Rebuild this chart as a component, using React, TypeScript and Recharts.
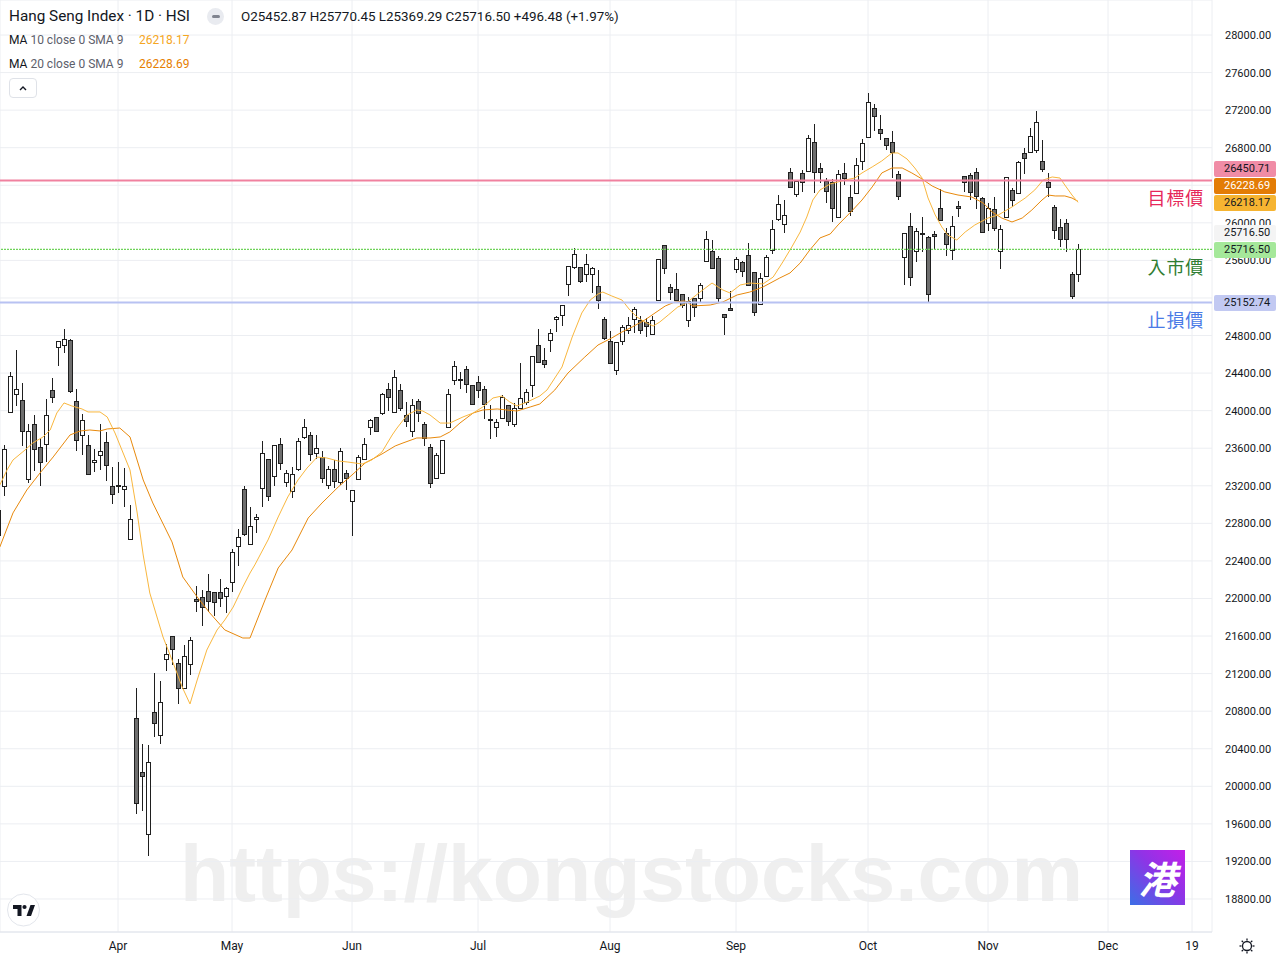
import React from 'react'
import { ComposedChart, Bar, Line, XAxis, YAxis, CartesianGrid, ReferenceLine } from 'recharts'

// Hang Seng Index daily candles, 4 Mar 2025 .. 24 Nov 2025 (bar index 0..180)
const opens = [
  22680, 23198, 23986, 24177, 24113, 23272, 23858, 23613, 23645, 24220,
  24678, 24699, 24752, 24103, 23741, 23634, 23453, 23528, 23666, 23198,
  23200, 23166, 22634, 20724, 20149, 19489, 20795, 20546, 21353, 21597,
  21310, 21051, 21299, 21990, 22019, 22076, 22066, 22066, 22030, 22179,
  22562, 23163, 22579, 22843, 23173, 23482, 23308, 23642, 23237, 23148,
  23379, 23723, 23737, 23546, 23503, 23205, 23376, 23237, 23333, 23035,
  23269, 23489, 23823, 23929, 23972, 24227, 23985, 24220, 23951, 23780,
  24100, 23855, 23610, 23280, 23333, 23823, 24323, 24334, 24440, 24270,
  24302, 24227, 23908, 23823, 23919, 24057, 23855, 24025, 24089, 24270,
  24696, 24536, 24749, 24980, 25015, 25345, 25527, 25527, 25452, 25452,
  25324, 24973, 24739, 24430, 24739, 24856, 24973, 24962, 24941, 24813,
  25175, 25761, 25314, 25292, 25240, 24962, 25203, 25196, 25597, 25703,
  25622, 25025, 25089, 25505, 25579, 25654, 25480, 25132, 25434, 25710,
  26037, 25984, 26537, 26303, 26527, 26552, 26857, 26580, 26449, 26432,
  26066, 26527, 26272, 26315, 26662, 26911, 27220, 26996, 26900, 26858,
  26517, 25633, 25963, 25704, 25889, 25846, 25878, 26155, 25889, 25711,
  26176, 26496, 26510, 26538, 26261, 26000, 26144, 25697, 26059, 26346,
  26315, 26740, 26751, 26772, 26655, 26431, 26165, 25952, 25995, 25455,
  25452.87,
]
const highs = [
  22990, 23634, 24412, 24646, 24294, 23858, 23954, 23709, 24124, 24347,
  24742, 24870, 24763, 24230, 23965, 23741, 23592, 23858, 23773, 23400,
  23453, 23389, 22995, 21047, 20450, 20436, 21206, 21121, 21515, 21600,
  21359, 21505, 21590, 22133, 22090, 22261, 22066, 22208, 22125, 22527,
  22740, 23198, 22977, 22900, 23680, 23482, 23631, 23706, 23368, 23397,
  23706, 23908, 23776, 23737, 23571, 23411, 23475, 23599, 23368, 23152,
  23528, 23706, 23908, 23929, 24185, 24291, 24433, 24280, 24089, 24128,
  24128, 23883, 23645, 23546, 23684, 24227, 24526, 24408, 24472, 24270,
  24366, 24259, 24057, 23908, 24164, 24057, 24078, 24504, 24227, 24579,
  24866, 24664, 24870, 25008, 25122, 25541, 25729, 25527, 25665, 25527,
  25495, 24994, 24852, 24728, 24916, 24994, 25108, 25005, 24983, 25005,
  25612, 25761, 25346, 25463, 25240, 25206, 25203, 25356, 25916, 25817,
  25647, 25025, 25274, 25640, 25597, 25781, 25480, 25462, 25654, 26030,
  26296, 26243, 26580, 26449, 26562, 26935, 27052, 26633, 26474, 26467,
  26563, 26634, 26403, 26687, 26890, 27383, 27262, 27149, 26900, 26978,
  26552, 25889, 26102, 25942, 26059, 25864, 25917, 26361, 25942, 26077,
  26233, 26496, 26527, 26580, 26279, 26208, 26279, 25974, 26485, 26368,
  26662, 26793, 27006, 27187, 26879, 26527, 26187, 26038, 26041, 25477,
  25770.45,
]
const lows = [
  22600, 23091, 23986, 24049, 23624, 23230, 23357, 23198, 23453, 24081,
  24475, 24614, 24190, 23570, 23528, 23315, 23347, 23368, 23251, 23006,
  23123, 22974, 22634, 19705, 19740, 19262, 20528, 20450, 21231, 21292,
  20873, 21047, 21185, 21860, 21710, 21860, 21817, 21913, 21849, 22066,
  22349, 22660, 22579, 22697, 22977, 23040, 23200, 23368, 23191, 23067,
  23357, 23698, 23467, 23485, 23227, 23169, 23177, 23205, 23155, 22668,
  23269, 23475, 23737, 23780, 23954, 24000, 23985, 23996, 23829, 23723,
  23883, 23627, 23180, 23280, 23333, 23823, 24270, 24227, 24185, 24068,
  24132, 23916, 23695, 23716, 23908, 23833, 23823, 24025, 24057, 24142,
  24504, 24451, 24629, 24842, 24905, 25225, 25505, 25356, 25374, 25257,
  25086, 24749, 24504, 24377, 24696, 24813, 24824, 24813, 24781, 24803,
  25175, 25452, 25175, 25165, 25090, 24887, 25001, 25143, 25586, 25515,
  25143, 24805, 25068, 25469, 25427, 25334, 25011, 25132, 25427, 25668,
  26019, 25888, 26378, 26278, 26332, 26552, 26321, 26420, 26207, 26006,
  26055, 26403, 26077, 26315, 26563, 26911, 26978, 26882, 26776, 26481,
  26247, 25339, 25332, 25587, 25694, 25154, 25715, 26027, 25651, 25605,
  26066, 26325, 26247, 26144, 25899, 25917, 25917, 25505, 26059, 26172,
  26304, 26516, 26740, 26740, 26538, 26272, 25824, 25747, 25693, 25186,
  25369.29,
]
const closes = [
  22940, 23592, 24369, 24231, 23783, 23783, 23592, 23453, 23954, 24145,
  24742, 24763, 24209, 23688, 23901, 23326, 23475, 23570, 23421, 23113,
  23206, 23198, 22846, 19819, 20113, 20256, 20671, 20901, 21406, 21459,
  21044, 21384, 21555, 21971, 21906, 21970, 21959, 22002, 22108, 22492,
  22651, 22683, 22769, 22864, 23546, 23094, 23631, 23446, 23333, 23322,
  23674, 23823, 23535, 23599, 23280, 23376, 23248, 23567, 23280, 23152,
  23503, 23642, 23897, 23780, 24174, 24149, 24355, 24024, 23887, 24057,
  23972, 23706, 23226, 23525, 23684, 24174, 24472, 24323, 24281, 24068,
  24217, 24068, 23897, 23876, 24142, 23887, 24025, 24132, 24195, 24579,
  24515, 24494, 24824, 24994, 25122, 25541, 25665, 25377, 25558, 25516,
  25175, 24771, 24504, 24728, 24895, 24909, 25079, 24856, 24898, 24962,
  25612, 25516, 25260, 25175, 25120, 25167, 25100, 25338, 25824, 25515,
  25196, 24993, 25068, 25611, 25490, 25334, 25047, 25409, 25636, 25934,
  26197, 26080, 26378, 26449, 26431, 26899, 26537, 26537, 26336, 26155,
  26517, 26474, 26121, 26613, 26847, 27283, 27134, 26953, 26826, 26751,
  26283, 25889, 25427, 25910, 25878, 25239, 25857, 26027, 25772, 25963,
  26155, 26432, 26332, 26282, 25899, 26155, 25942, 25931, 26485, 26240,
  26644, 26687, 26921, 27070, 26570, 26378, 25920, 25824, 25824, 25220,
  25716.5,
]

// MA 10 / MA 20 (SMA 9 smoothed): [bar index, value]
const ma10 = [
  [0.3, 23208], [1.5, 23368], [2.5, 23475], [4.5, 23581], [5.8, 23656], [7.5, 23720], [8.7, 23794],
  [9.8, 23975], [11, 24082], [12.3, 24050], [14, 24018], [15, 23986], [17, 23986], [18.2, 23933],
  [19.5, 23762], [22, 23368], [23.2, 22910], [24.2, 22463], [25.3, 22058], [27.5, 21590], [29.2, 21313],
  [30.7, 21057], [32, 20877], [33.2, 21132], [34.8, 21451], [36.5, 21664], [37.8, 21771], [39.2, 21909],
  [40.8, 22122], [42, 22271], [42.8, 22357], [45, 22623], [46.7, 22868], [48.3, 23081], [50, 23262],
  [51.5, 23389], [53.2, 23506], [54.8, 23496], [56.7, 23464], [58.3, 23453], [60.7, 23432], [62.3, 23475],
  [64, 23560], [65.7, 23741], [66.5, 23815], [68.2, 23954], [69.8, 24007], [70.8, 23996], [72, 23954],
  [73.7, 23868], [75.3, 23868], [77.5, 23933], [79.2, 23975], [80.8, 24039], [82.5, 24135], [84, 24156],
  [85.3, 24092], [86.5, 24050], [88.2, 24092], [90.3, 24156], [91.5, 24220], [94, 24465], [95.7, 24784],
  [97.3, 25040], [98.7, 25178], [100, 25242], [100.8, 25263], [102.3, 25221], [104, 25178], [105.3, 25072],
  [106.5, 24997], [107.8, 24944], [109.2, 24901], [110.3, 24944], [111.7, 25018], [113.3, 25104],
  [114.5, 25136], [117, 25263], [119, 25359], [120.8, 25285], [122, 25253], [123.7, 25338], [125.3, 25359],
  [127.5, 25349], [129.2, 25423], [130.8, 25583], [132.3, 25743], [133.7, 25902], [134.8, 26062],
  [135.8, 26243], [137, 26350], [138.7, 26414], [141.2, 26456], [142.8, 26477], [144, 26531], [145.7, 26595],
  [147.3, 26659], [149, 26744], [150, 26744], [151.5, 26680], [152.8, 26584], [154, 26478], [155, 26265],
  [156.2, 26084], [157.3, 25956], [158.3, 25870], [159.8, 25817], [161.2, 25902], [162.8, 25977],
  [165, 26051], [166.7, 26083], [169, 26169], [171.2, 26264], [172.8, 26350], [174.2, 26456], [175.7, 26488],
  [177, 26477], [177.8, 26403], [179, 26296], [180, 26218.17],
]
const ma20 = [
  [0.3, 22548], [2.5, 22911], [4.8, 23155], [7, 23336], [9.2, 23507], [12, 23741], [13.7, 23784],
  [15.3, 23794], [17, 23784], [18.2, 23805], [20.3, 23815], [22, 23720], [24.2, 23262], [25.8, 23017],
  [29, 22602], [30.8, 22229], [33.2, 22016], [35.3, 21846], [37.8, 21665], [40.8, 21579], [42, 21579],
  [44.5, 21984], [46.7, 22325], [49, 22516], [51.7, 22857], [54, 23017], [56.7, 23187], [59, 23315],
  [61.2, 23443], [64, 23539], [66.2, 23624], [67.5, 23656], [69.8, 23709], [72, 23709], [73.7, 23720],
  [75.3, 23773], [77, 23869], [79.2, 23975], [80.8, 24007], [83.2, 24018], [84.8, 24007], [86.5, 23996],
  [88.7, 24039], [90.3, 24071], [92.8, 24220], [95, 24401], [97.8, 24571], [100, 24699], [102.3, 24774],
  [104, 24838], [105.7, 24891], [107.8, 24965], [109.5, 25040], [111.2, 25114], [112.8, 25157],
  [114.5, 25168], [115.8, 25115], [118.7, 25125], [120.8, 25157], [123.2, 25232], [125.3, 25263],
  [127.5, 25317], [130.3, 25413], [132, 25466], [133.7, 25572], [135.3, 25711], [137, 25839], [138.7, 25881],
  [140, 25977], [142.3, 26126], [144, 26243], [145.7, 26382], [147.3, 26531], [149, 26584], [150.7, 26584],
  [152.3, 26531], [154, 26467], [155.7, 26392], [157.8, 26329], [160, 26296], [162.3, 26275], [164.2, 26211],
  [165.7, 26115], [167.3, 26051], [169, 26009], [170.7, 26051], [172.3, 26136], [174, 26243], [175, 26296],
  [176.2, 26286], [177.8, 26286], [179, 26264], [180, 26228.69],
]

const monthIdx = [20, 39, 59, 80, 102, 123, 145, 165, 185, 199]
const monthLabels = ['Apr', 'May', 'Jun', 'Jul', 'Aug', 'Sep', 'Oct', 'Nov', 'Dec', '19']
const priceTicks = [
  18800, 19200, 19600, 20000, 20400, 20800, 21200, 21600, 22000, 22400, 22800, 23200,
  23600, 24000, 24400, 24800, 25200, 25600, 26000, 26400, 26800, 27200, 27600, 28000,
]
// these two tick labels sit fully under the price tags
const coveredTicks = [25200, 26400]

const targetPrice = 26450.71
const entryPrice = 25716.5
const stopPrice = 25152.74

const rows = closes.map((c, i) => ({ i, o: opens[i], h: highs[i], l: lows[i], c, range: [lows[i], highs[i]] }))
const ma10Rows = ma10.map(([i, v]) => ({ i, v }))
const ma20Rows = ma20.map(([i, v]) => ({ i, v }))

const INK = '#131722'
const WICK = '#1f1f1f'
const FONT = 'Roboto, "Noto Sans", sans-serif'

function Candle(props: any) {
  const { x, y, width, height, payload } = props
  if (x == null || !payload) return null
  const { o, h, l, c } = payload
  const top = Math.min(y, y + height)
  const bottom = Math.max(y, y + height)
  const k = h > l ? (bottom - top) / (h - l) : 0
  const py = (v: number) => top + (h - v) * k
  const cx = Math.round(x + width / 2) + 0.5
  const y1 = Math.round(py(Math.max(o, c))) + 0.5
  const y2 = Math.max(y1 + 1, Math.round(py(Math.min(o, c))) + 0.5)
  return (
    <g shapeRendering="crispEdges">
      <line x1={cx} x2={cx} y1={Math.round(top)} y2={Math.round(bottom)} stroke={WICK} />
      <rect x={cx - 2} y={y1} width={4} height={y2 - y1} fill={c >= o ? '#ffffff' : '#6e6e6e'} stroke={WICK} />
    </g>
  )
}

function PriceTick(props: any) {
  const { y, payload } = props
  if (coveredTicks.includes(payload.value)) return <g />
  return (
    <text x={1225} y={y + 4} fontSize={11} fill={INK} fontFamily={FONT}>
      {Number(payload.value).toFixed(2)}
    </text>
  )
}

function DateTick(props: any) {
  const { x, payload } = props
  const label = monthLabels[monthIdx.indexOf(payload.value)]
  return (
    <text x={x} y={950} textAnchor="middle" fontSize={12} fill={INK} fontFamily={FONT}>
      {label}
    </text>
  )
}

function Tag({ top, bg, color, text }: { top: number; bg: string; color: string; text: string }) {
  return (
    <div
      style={{
        position: 'absolute', left: 1214, top, width: 62, height: 16, lineHeight: '16px',
        background: bg, color, fontSize: 11, paddingLeft: 10, boxSizing: 'border-box', borderRadius: 2,
      }}
    >
      {text}
    </div>
  )
}

function SideLabel({ top, color, text }: { top: number; color: string; text: string }) {
  return (
    <div
      style={{
        position: 'absolute', right: 1280 - 1204, top, fontSize: 18, lineHeight: '20px', color,
        fontFamily: '"Noto Sans CJK TC", "Noto Sans CJK SC", sans-serif', letterSpacing: 0.8,
      }}
    >
      {text}
    </div>
  )
}

export default function App() {
  return (
    <div
      style={{
        position: 'absolute', left: 0, top: 0, width: 1280, height: 960, background: '#fff',
        overflow: 'hidden', fontFamily: FONT, color: INK,
      }}
    >
      <svg width={1280} height={960} style={{ position: 'absolute', left: 0, top: 0 }}>
        <text
          x={180} y={901} fontSize={80} fontWeight={700} fill="#efefef"
          fontFamily='"Liberation Sans", Arial, sans-serif' textLength={903} lengthAdjust="spacingAndGlyphs"
        >
          https://kongstocks.com
        </text>
      </svg>

      <ComposedChart width={1280} height={960} data={rows} margin={{ top: 0, right: 0, bottom: 0, left: 0 }}>
        <CartesianGrid stroke="#eceef2" />
        <XAxis
          type="number" dataKey="i" domain={[1 / 3, 202 + 1 / 3]} allowDataOverflow
          ticks={monthIdx} interval={0} tick={DateTick} tickLine={false}
          axisLine={{ stroke: '#e0e3eb' }} height={28}
        />
        <YAxis
          orientation="right" width={68} domain={[18448.6, 28372.7]} allowDataOverflow
          ticks={priceTicks} interval={0} tick={PriceTick} tickLine={false} axisLine={false}
        />
        <Bar dataKey="range" shape={Candle} barSize={5} isAnimationActive={false} activeBar={false} />
        <Line
          data={ma20Rows} dataKey="v" stroke="#e8890c" strokeWidth={1}
          dot={false} activeDot={false} isAnimationActive={false}
        />
        <Line
          data={ma10Rows} dataKey="v" stroke="#f9b73e" strokeWidth={1}
          dot={false} activeDot={false} isAnimationActive={false}
        />
        <ReferenceLine y={targetPrice} stroke="#f0819f" strokeWidth={2} />
        <ReferenceLine y={entryPrice} stroke="#6fd35a" strokeWidth={1.2} strokeDasharray="2 1" />
        <ReferenceLine y={stopPrice} stroke="#b8c2f2" strokeWidth={2} />
      </ComposedChart>

      {/* header */}
      <div style={{ position: 'absolute', left: 9, top: 6, fontSize: 15.3, lineHeight: '20px' }}>
        Hang Seng Index · 1D · HSI
      </div>
      <div
        style={{
          position: 'absolute', left: 207, top: 8, width: 17, height: 17, borderRadius: '50%', background: '#e9ebf0',
        }}
      >
        <div style={{ position: 'absolute', left: 4.5, top: 7, width: 8, height: 3, borderRadius: 2, background: '#80848f' }} />
      </div>
      <div style={{ position: 'absolute', left: 241, top: 8, fontSize: 13.4, lineHeight: '18px' }}>
        O25452.87 H25770.45 L25369.29 C25716.50 +496.48 (+1.97%)
      </div>
      <div style={{ position: 'absolute', left: 9, top: 32, fontSize: 12, lineHeight: '16px', color: '#5d606b' }}>
        <span style={{ color: INK }}>MA</span> 10 close 0 SMA 9
      </div>
      <div style={{ position: 'absolute', left: 139, top: 32, fontSize: 12, lineHeight: '16px', color: '#f5a623' }}>26218.17</div>
      <div style={{ position: 'absolute', left: 9, top: 56, fontSize: 12, lineHeight: '16px', color: '#5d606b' }}>
        <span style={{ color: INK }}>MA</span> 20 close 0 SMA 9
      </div>
      <div style={{ position: 'absolute', left: 139, top: 56, fontSize: 12, lineHeight: '16px', color: '#e67e00' }}>26228.69</div>
      <div
        style={{
          position: 'absolute', left: 9, top: 78, width: 28, height: 20, boxSizing: 'border-box',
          border: '1px solid #dfe2e8', borderRadius: 4,
        }}
      >
        <svg width={26} height={18} style={{ position: 'absolute', left: 0, top: 0 }}>
          <polyline points="10,11 13,8 16,11" fill="none" stroke={INK} strokeWidth={1.4} />
        </svg>
      </div>

      {/* drawing labels */}
      <SideLabel top={187} color="#e6285a" text="目標價" />
      <SideLabel top={256} color="#2f7d32" text="入市價" />
      <SideLabel top={309} color="#4a7be6" text="止損價" />

      {/* price axis tags */}
      <Tag top={161} bg="#f08ca6" color={INK} text="26450.71" />
      <Tag top={178} bg="#e37c05" color="#ffffff" text="26228.69" />
      <Tag top={195} bg="#f6b431" color={INK} text="26218.17" />
      <Tag top={225} bg="#f4f4f4" color={INK} text="25716.50" />
      <Tag top={242} bg="#a5e89a" color={INK} text="25716.50" />
      <Tag top={295} bg="#c2c9f2" color={INK} text="25152.74" />

      {/* site logo */}
      <div
        style={{
          position: 'absolute', left: 1130, top: 850, width: 55, height: 55,
          background: 'linear-gradient(to top right, #3b6fe6 0%, #8e34e6 55%, #c41fe8 100%)',
          color: '#fff', fontSize: 38, lineHeight: '55px', textAlign: 'center', fontWeight: 700,
          fontFamily: '"Noto Sans CJK TC", sans-serif', fontStyle: 'italic',
        }}
      >
        港
      </div>

      {/* TradingView mark and settings icon */}
      <svg width={1280} height={960} style={{ position: 'absolute', left: 0, top: 0, pointerEvents: 'none' }}>
        <circle cx={23.5} cy={910} r={16} fill="#fff" stroke="#e3e6ec" />
        <path d="M13 905 H21.5 V916 H17.5 V909 H13 Z" fill={INK} />
        <circle cx={24.5} cy={907} r={2.1} fill={INK} />
        <path d="M26.5 916 L30.5 905 H35 L31 916 Z" fill={INK} />
        <g stroke={INK} strokeWidth={1.3} fill="none">
          <circle cx={1247} cy={946} r={4.5} />
          {[0, 45, 90, 135, 180, 225, 270, 315].map((a) => {
            const r = (a * Math.PI) / 180
            return (
              <line
                key={a}
                x1={1247 + Math.cos(r) * 5.5} y1={946 + Math.sin(r) * 5.5}
                x2={1247 + Math.cos(r) * 7.5} y2={946 + Math.sin(r) * 7.5}
              />
            )
          })}
        </g>
      </svg>
    </div>
  )
}
